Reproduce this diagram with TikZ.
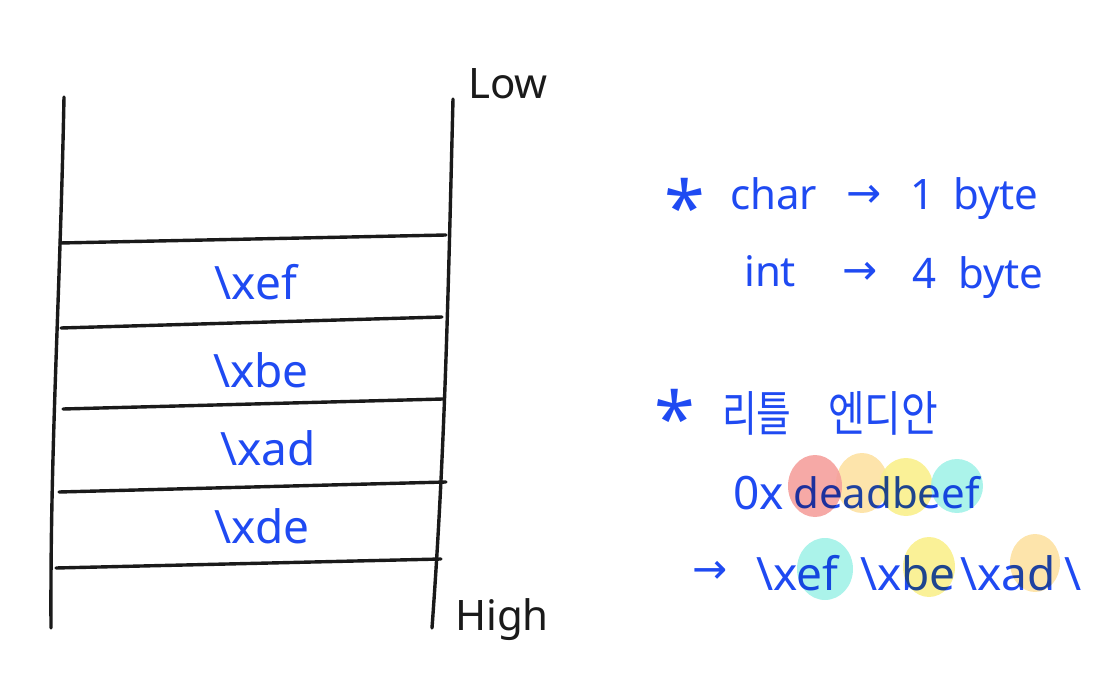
\documentclass[tikz,border=0pt]{standalone}
\usepackage{fontspec}
\setmainfont{Noto Sans}
\newfontfamily\kr{Noto Sans CJK KR}
\newfontfamily\dv{DejaVu Sans}
\definecolor{pen}{HTML}{1F4AF2}
\definecolor{ink}{HTML}{1A1A1A}
\definecolor{hlred}{HTML}{F5A09C}
\definecolor{hlorange}{HTML}{FDE1A2}
\definecolor{hlyellow}{HTML}{FAF08C}
\definecolor{hlcyan}{HTML}{A2F2E8}
\newcommand{\bs}{\textbackslash}
\begin{document}
\begin{tikzpicture}[x=1pt,y=-1pt,
  stackline/.style={line width=3.4pt, line cap=round, ink},
  lab/.style={text=pen, font=\fontsize{46}{46}\selectfont, inner sep=0pt, anchor=base, text height=0.72em, text depth=0.2em},
  side/.style={text=ink, font=\fontsize{42}{42}\selectfont, inner sep=0pt, anchor=base west, text height=0.72em, text depth=0.2em},
  note/.style={text=pen, font=\fontsize{42}{42}\selectfont, inner sep=0pt, anchor=base west, text height=0.72em, text depth=0.2em},
  starnote/.style={text=pen, font=\fontsize{74}{74}\selectfont, inner sep=0pt, anchor=base west, text height=0.72em, text depth=0em},
  hl/.style={fill opacity=0.9, draw=none}]
\useasboundingbox (0,0) rectangle (1093,687);

% stack outline
\coordinate (lt) at (64,97);
\coordinate (lb) at (51,628);
\coordinate (rt) at (453,99);
\coordinate (rb) at (432,628);
\draw[stackline] (lt) .. controls (60,300) and (50,450) .. (lb);
\draw[stackline] (rt) .. controls (448,300) and (445,450) .. (rb);

\coordinate (h1a) at (60,243); \coordinate (h1b) at (446,235);
\coordinate (h2a) at (61,328); \coordinate (h2b) at (442,317);
\coordinate (h3a) at (63,409); \coordinate (h3b) at (443,399);
\coordinate (h4a) at (59,492); \coordinate (h4b) at (446,482);
\coordinate (h5a) at (56,568); \coordinate (h5b) at (441,559);
\foreach \i in {1,...,5}{\draw[stackline] (h\i a) -- (h\i b);}

% stack labels
\node[lab] (ef) at (256,300) {\bs xef};
\node[lab] (be) at (261,387) {\bs xbe};
\node[lab] (ad) at (268,465) {\bs xad};
\node[lab] (de) at (262,543) {\bs xde};

\node[side] (low) at (468,99) {Low};
\node[side] (high) at (455,630) {High};

% highlights
\fill[hl, hlorange] (862,483) ellipse [x radius=26, y radius=30];
\fill[hl, hlred] (815,486) ellipse [x radius=27, y radius=31];
\fill[hl, hlyellow] (906,487) ellipse [x radius=27, y radius=29];
\fill[hl, hlcyan] (957,486) ellipse [x radius=26, y radius=27];
\fill[hl, hlcyan] (825,569) ellipse [x radius=28, y radius=31];
\fill[hl, hlyellow] (929,567) ellipse [x radius=26, y radius=30];
\fill[hl, hlorange] (1035,563) ellipse [x radius=25, y radius=29];

% notes
\node[starnote] (star1) at (664,235) {*};
\node[note] (char) at (730,210) {char};
\node[note] (arr1) at (846,208) {\dv →};
\node[note] (one) at (910,210) {1};
\node[note] (byte1) at (953,210) {byte};

\node[note] (int) at (744,287) {int};
\node[note] (arr2) at (842,285) {\dv →};
\node[note] (four) at (912,288) {4};
\node[note] (byte2) at (958,288) {byte};

\node[starnote] (star2) at (654,445) {*};
\node[note] (ritl) at (722,431) {\kr\scalebox{0.9}[1.15]{리틀}};
\node[note] (endian) at (828,431) {\kr\scalebox{0.95}[1.15]{엔디안}};

\begin{scope}[blend mode=multiply]
\node[note, font=\fontsize{46}{46}\selectfont] (zx) at (733,509) {0x};
\node[note] (dead) at (793,508) {deadbeef};
\node[note] (arr3) at (692,583) {\dv →};
\node[note, font=\fontsize{46}{46}\selectfont] (b1) at (756,590) {\bs xef};
\node[note, font=\fontsize{46}{46}\selectfont] (b2) at (860,590) {\bs xbe};
\node[note, font=\fontsize{46}{46}\selectfont] (b3) at (960,590) {\bs xad};
\node[note, font=\fontsize{46}{46}\selectfont] (b4) at (1064,590) {\bs};
\end{scope}
\end{tikzpicture}
\end{document}
